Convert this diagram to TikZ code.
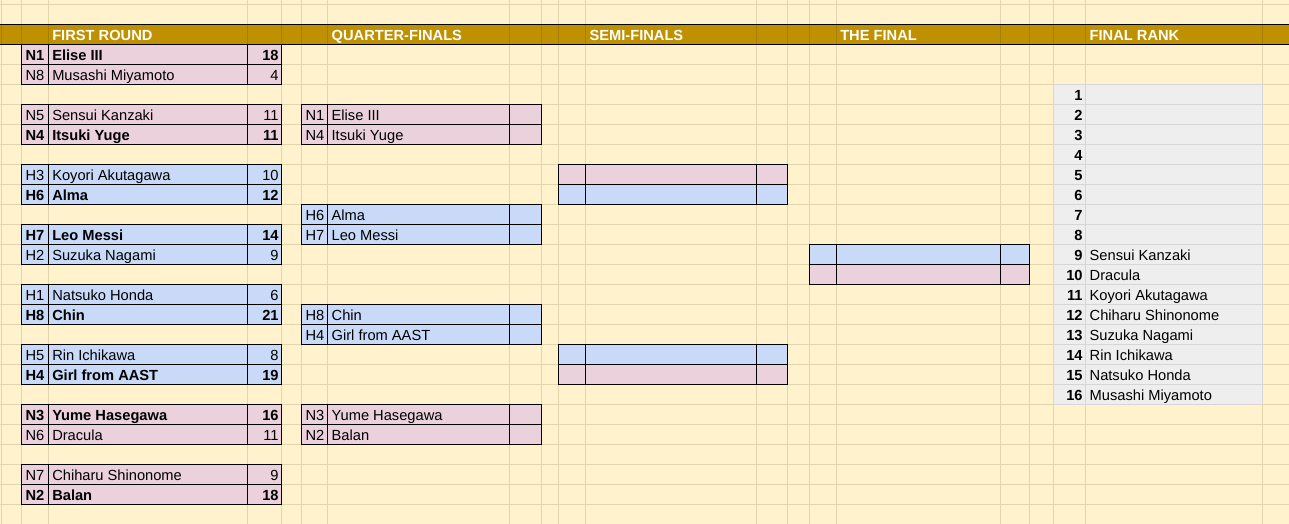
\documentclass[tikz,border=0pt]{standalone}
\usepackage{fontspec}
\setmainfont{Liberation Sans}
\definecolor{cream}{HTML}{FFF2CC}
\definecolor{gridc}{HTML}{E3D5AE}
\definecolor{gold}{HTML}{BF9000}
\definecolor{golddark}{HTML}{A67D00}
\definecolor{pinkc}{HTML}{EAD1DC}
\definecolor{bluec}{HTML}{C9DAF8}
\definecolor{rankbg}{HTML}{EEEEEE}
\definecolor{rankgrid}{HTML}{D6D6D6}
\tikzset{
  gridline/.style={draw=gridc,line width=0.75pt},
  cellb/.style={draw=black,line width=0.75pt},
  md/.style={inner sep=0pt,font=\fontsize{11}{13}\selectfont},
  bf/.style={inner sep=0pt,font=\fontsize{11}{13}\selectfont\bfseries},
  hd/.style={inner sep=0pt,anchor=base west,text=white,font=\fontsize{11}{13}\selectfont\bfseries},
}
\newcommand\frrow[7]{%
  \pgfmathsetmacro\bkyt{4.4+20*#2}\pgfmathsetmacro\bkyb{\bkyt+20}\pgfmathsetmacro\bkyl{\bkyt+16.5}%
  \filldraw[cellb,fill=#3] (21.7,\bkyt) rectangle (281.7,\bkyb);
  \draw[cellb] (48.3,\bkyt) -- (48.3,\bkyb) (247.7,\bkyt) -- (247.7,\bkyb);
  \node[#4,anchor=base west] (#1a) at (25.3,\bkyl) {#5};
  \node[#4,anchor=base west] (#1b) at (52.0,\bkyl) {#6};
  \node[#4,anchor=base east] (#1c) at (278.9,\bkyl) {#7};
}
\newcommand\qfrow[5]{%
  \pgfmathsetmacro\bkyt{4.4+20*#2}\pgfmathsetmacro\bkyb{\bkyt+20}\pgfmathsetmacro\bkyl{\bkyt+16.5}%
  \filldraw[cellb,fill=#3] (301.7,\bkyt) rectangle (541.7,\bkyb);
  \draw[cellb] (327.7,\bkyt) -- (327.7,\bkyb) (509.3,\bkyt) -- (509.3,\bkyb);
  \node[md,anchor=base west] (#1a) at (305.3,\bkyl) {#4};
  \node[md,anchor=base west] (#1b) at (331.4,\bkyl) {#5};
}
\newcommand\emrow[6]{%
  \pgfmathsetmacro\bkyt{4.4+20*#1}\pgfmathsetmacro\bkyb{\bkyt+20}%
  \filldraw[cellb,fill=#2] (#3,\bkyt) rectangle (#6,\bkyb);
  \draw[cellb] (#4,\bkyt) -- (#4,\bkyb) (#5,\bkyt) -- (#5,\bkyb);
}
\newcommand\rkrow[4]{%
  \pgfmathsetmacro\bkyl{4.4+20*#2+16.5}%
  \node[bf,anchor=base east] (#1n) at (1082.9,\bkyl) {#3};
  \ifx\relax#4\relax\else\node[md,anchor=base west] (#1p) at (1089.4,\bkyl) {#4};\fi
}
\begin{document}
\begin{tikzpicture}[x=0.75pt,y=-0.75pt]
\useasboundingbox (0,0) rectangle (1289,524);
\fill[cream] (0,0) rectangle (1289,524);
% grid
\foreach \k in {0,...,25} \draw[gridline] (0,4.4+20*\k) -- (1289,4.4+20*\k);
\foreach \xx in {1.5,21.7,48.3,247.7,281.7,301.7,327.7,509.3,541.7,558.3,585.5,756.7,787.5,809.3,836.3,1000.7,1029.5,1053.3,1085.7,1262.3}
  \draw[gridline] (\xx,0) -- (\xx,524);
% rank area
\fill[rankbg] (1053.3,84.4) rectangle (1262.3,404.4);
\foreach \k in {4,...,20} \draw[draw=rankgrid,line width=0.75pt] (1053.3,4.4+20*\k) -- (1262.3,4.4+20*\k);
\foreach \xx in {1053.3,1085.7,1262.3} \draw[draw=rankgrid,line width=0.75pt] (\xx,84.4) -- (\xx,404.4);
% header
\fill[gold] (0,24.4) rectangle (1289,44.4);
\foreach \xx in {1.5,21.7,48.3,247.7,281.7,301.7,327.7,509.3,541.7,558.3,585.5,756.7,787.5,809.3,836.3,1000.7,1029.5,1053.3,1085.7,1262.3}
  \draw[draw=golddark,line width=0.75pt] (\xx,24.4) -- (\xx,44.4);
\draw[black,line width=0.75pt] (0,24.4) -- (1289,24.4) (0,44.4) -- (1289,44.4);
\node[hd] (h1) at (52.0,40.9) {FIRST ROUND};
\node[hd] (h2) at (331.4,40.9) {QUARTER-FINALS};
\node[hd] (h3) at (589.3,40.9) {SEMI-FINALS};
\node[hd] (h4) at (840.0,40.9) {THE FINAL};
\node[hd] (h5) at (1089.4,40.9) {FINAL RANK};
% first round
\frrow{r1}{2}{pinkc}{bf}{N1}{Elise III}{18}
\frrow{r2}{3}{pinkc}{md}{N8}{Musashi Miyamoto}{4}
\frrow{r3}{5}{pinkc}{md}{N5}{Sensui Kanzaki}{11}
\frrow{r4}{6}{pinkc}{bf}{N4}{Itsuki Yuge}{11}
\frrow{r5}{8}{bluec}{md}{H3}{Koyori Akutagawa}{10}
\frrow{r6}{9}{bluec}{bf}{H6}{Alma}{12}
\frrow{r7}{11}{bluec}{bf}{H7}{Leo Messi}{14}
\frrow{r8}{12}{bluec}{md}{H2}{Suzuka Nagami}{9}
\frrow{r9}{14}{bluec}{md}{H1}{Natsuko Honda}{6}
\frrow{r10}{15}{bluec}{bf}{H8}{Chin}{21}
\frrow{r11}{17}{bluec}{md}{H5}{Rin Ichikawa}{8}
\frrow{r12}{18}{bluec}{bf}{H4}{Girl from AAST}{19}
\frrow{r13}{20}{pinkc}{bf}{N3}{Yume Hasegawa}{16}
\frrow{r14}{21}{pinkc}{md}{N6}{Dracula}{11}
\frrow{r15}{23}{pinkc}{md}{N7}{Chiharu Shinonome}{9}
\frrow{r16}{24}{pinkc}{bf}{N2}{Balan}{18}
% quarter-finals
\qfrow{q1}{5}{pinkc}{N1}{Elise III}
\qfrow{q2}{6}{pinkc}{N4}{Itsuki Yuge}
\qfrow{q3}{10}{bluec}{H6}{Alma}
\qfrow{q4}{11}{bluec}{H7}{Leo Messi}
\qfrow{q5}{15}{bluec}{H8}{Chin}
\qfrow{q6}{16}{bluec}{H4}{Girl from AAST}
\qfrow{q7}{20}{pinkc}{N3}{Yume Hasegawa}
\qfrow{q8}{21}{pinkc}{N2}{Balan}
% semi-finals
\emrow{8}{pinkc}{558.3}{585.5}{756.7}{787.5}
\emrow{9}{bluec}{558.3}{585.5}{756.7}{787.5}
\emrow{17}{bluec}{558.3}{585.5}{756.7}{787.5}
\emrow{18}{pinkc}{558.3}{585.5}{756.7}{787.5}
% final
\emrow{12}{bluec}{809.3}{836.3}{1000.7}{1029.5}
\emrow{13}{pinkc}{809.3}{836.3}{1000.7}{1029.5}
% final rank
\rkrow{k1}{4}{1}{}
\rkrow{k2}{5}{2}{}
\rkrow{k3}{6}{3}{}
\rkrow{k4}{7}{4}{}
\rkrow{k5}{8}{5}{}
\rkrow{k6}{9}{6}{}
\rkrow{k7}{10}{7}{}
\rkrow{k8}{11}{8}{}
\rkrow{k9}{12}{9}{Sensui Kanzaki}
\rkrow{k10}{13}{10}{Dracula}
\rkrow{k11}{14}{11}{Koyori Akutagawa}
\rkrow{k12}{15}{12}{Chiharu Shinonome}
\rkrow{k13}{16}{13}{Suzuka Nagami}
\rkrow{k14}{17}{14}{Rin Ichikawa}
\rkrow{k15}{18}{15}{Natsuko Honda}
\rkrow{k16}{19}{16}{Musashi Miyamoto}
\end{tikzpicture}
\end{document}
